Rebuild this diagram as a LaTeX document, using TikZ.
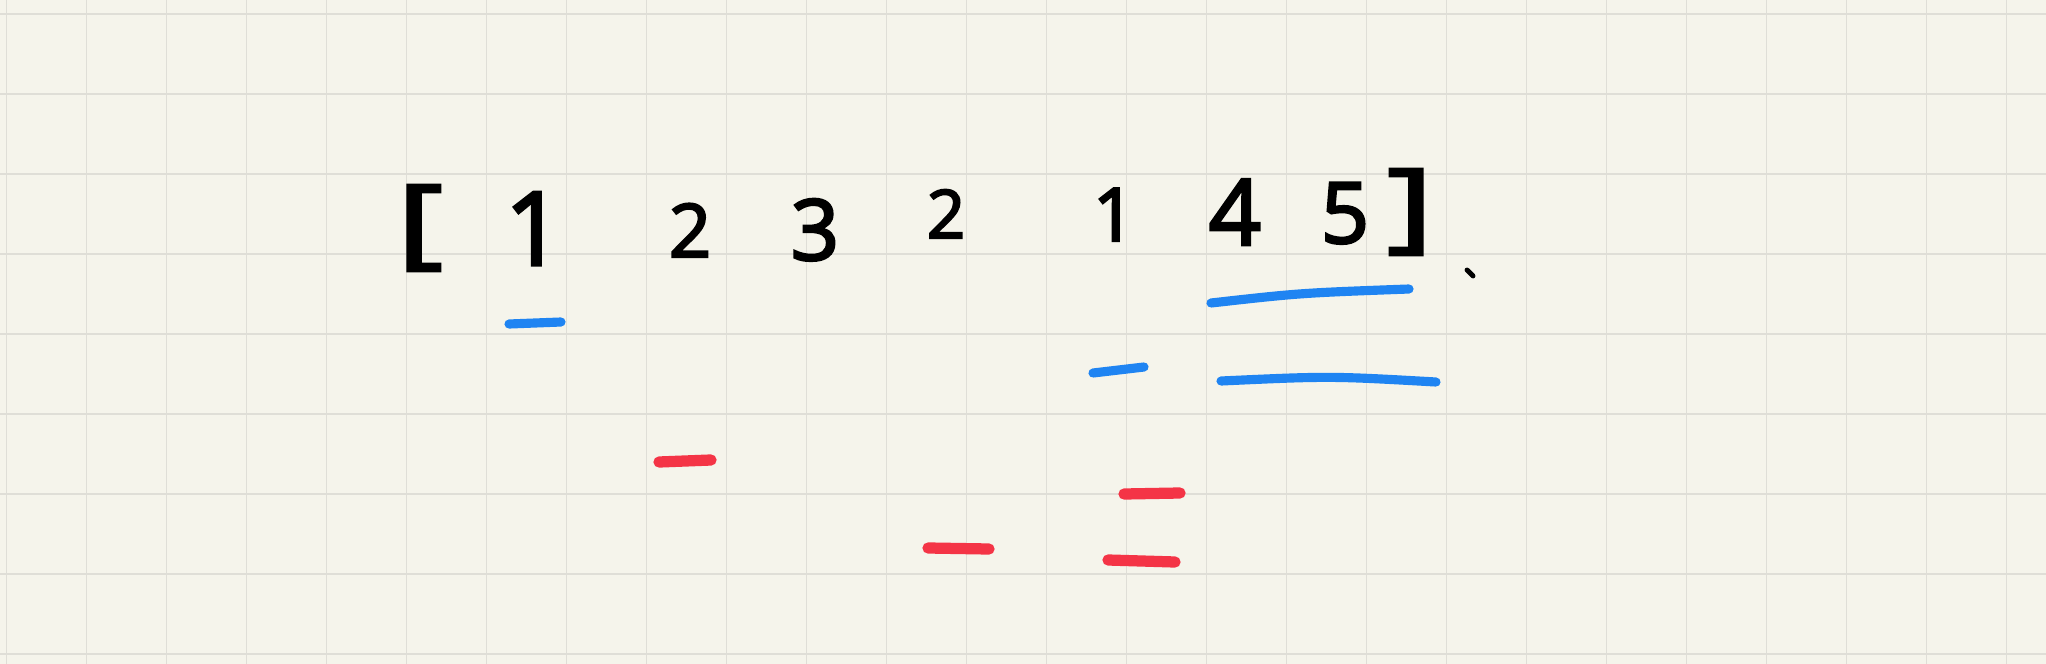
\documentclass[tikz,border=0pt]{standalone}
\usepackage{fontspec}
\newfontfamily\penfont{Open Sans}[FakeBold=3]
\usetikzlibrary{positioning}

\definecolor{paper}{HTML}{F5F4EB}
\definecolor{gridline}{HTML}{DFDED7}
\definecolor{penblue}{HTML}{1F84F2}
\definecolor{penred}{HTML}{F43446}

\begin{document}
\begin{tikzpicture}[
    x = 0.01cm, y = -0.01cm,
    digit/.style = { font = \penfont\fontsize{#1}{#1}\selectfont, inner sep = 0pt, anchor = base },
    digit/.default = 24,
    brack/.style = { font = \penfont\fontsize{28}{28}\selectfont, inner sep = 0pt }
]
    \tikzstyle{blueline} = [penblue, line width = 2.6pt, line cap = round];
    \tikzstyle{redline} = [penred, line width = 3.2pt, line cap = round];

    % paper and grid
    \fill[paper] (0, 0) rectangle (2046, 664);
    \useasboundingbox (0, 0) rectangle (2046, 664);
    \foreach \gx in {0, ..., 25} {
        \draw[gridline, line width = 0.45pt] (6.5 + 80 * \gx, 0) -- (6.5 + 80 * \gx, 664);
    }
    \foreach \gy in {0, ..., 8} {
        \draw[gridline, line width = 0.45pt] (0, 14 + 80 * \gy) -- (2046, 14 + 80 * \gy);
    }

    % the array
    \node[brack] (open) at (420, 228) {\scalebox{1.4}[1]{[}};
    \node[digit = 29] (a1) at (534, 265) {1};
    \node[digit = 21] (a2) at (690, 257) {2};
    \node[digit = 24] (a3) at (815, 260) {3};
    \node[digit = 19] (a4) at (946, 238) {2};
    \node[digit = 21] (a5) at (1114, 241) {1};
    \node[digit = 26] (a6) at (1235, 245) {4};
    \node[digit = 24] (a7) at (1345, 243) {5};
    \node[brack] (close) at (1410, 212) {\scalebox{1.4}[1]{]}};
    \draw[line width = 1.4pt, line cap = round] (1467, 270) -- (1473, 276);

    % blue marks
    \draw[blueline] (509, 324) -- (561, 322);
    \draw[blueline] (1211, 303) .. controls (1300, 293) .. (1409, 289);
    \draw[blueline] (1093, 373) -- (1144, 367);
    \draw[blueline] (1221, 381) .. controls (1330, 376) .. (1436, 382);

    % red marks
    \draw[redline] (659, 462) -- (711, 460);
    \draw[redline] (928, 548) -- (989, 549);
    \draw[redline] (1124, 494) -- (1180, 493);
    \draw[redline] (1108, 560) -- (1175, 562);
\end{tikzpicture}
\end{document}
